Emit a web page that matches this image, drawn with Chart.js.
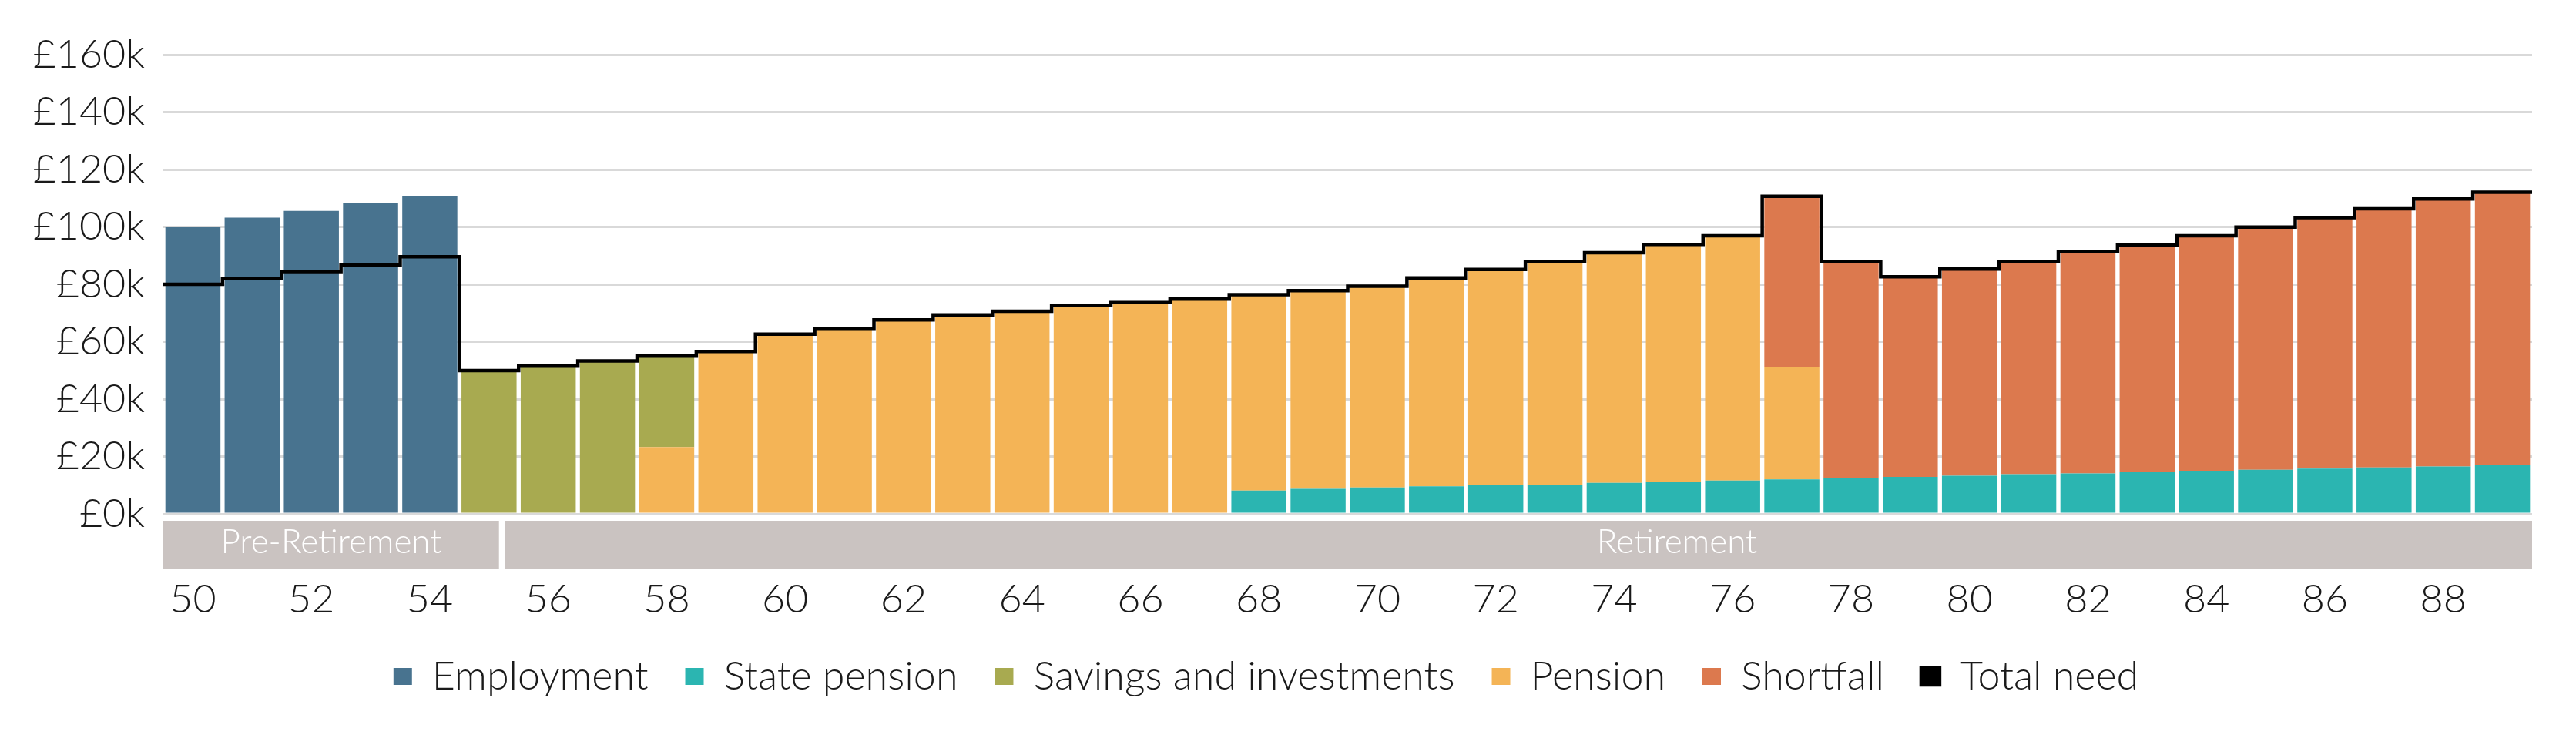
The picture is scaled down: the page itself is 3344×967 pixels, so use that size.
<!DOCTYPE html>
<html>
<head>
<meta charset="utf-8">
<script src="https://cdn.jsdelivr.net/npm/chart.js@4.4.1/dist/chart.umd.min.js"></script>
<style>
html,body{margin:0;padding:0;background:#fff;overflow:hidden}
#wrap{width:3344px;height:967px;position:relative}
</style>
</head>
<body>
<div id="wrap"><canvas id="c"></canvas></div>
<script>
// ---- Data (values in £ thousands) ----
const ages = [50,51,52,53,54,55,56,57,58,59,60,61,62,63,64,65,66,67,68,69,70,71,72,73,74,75,76,77,78,79,80,81,82,83,84,85,86,87,88,89];

const employment = [100.0,103.2,105.6,108.2,110.6, 0,0,0,0,0, 0,0,0,0,0, 0,0,0,0,0, 0,0,0,0,0, 0,0,0,0,0, 0,0,0,0,0, 0,0,0,0,0];
const statePension = [0,0,0,0,0, 0,0,0,0,0, 0,0,0,0,0, 0,0,0,8.1,8.7, 9.2,9.6,9.9,10.2,10.8, 11.1,11.6,12.0,12.5,12.9, 13.3,13.8,14.1,14.5,15.0, 15.4,15.8,16.2,16.5,17.0];
const savings = [0,0,0,0,0, 49.9,51.5,53.3,31.7,0, 0,0,0,0,0, 0,0,0,0,0, 0,0,0,0,0, 0,0,0,0,0, 0,0,0,0,0, 0,0,0,0,0];
const pension = [0,0,0,0,0, 0,0,0,23.3,56.6, 62.6,64.6,67.6,69.3,70.6, 72.6,73.6,74.8,68.3,69.1, 70.1,72.6,75.3,77.8,80.2, 82.8,85.3,39.1,0,0, 0,0,0,0,0, 0,0,0,0,0];
const shortfall = [0,0,0,0,0, 0,0,0,0,0, 0,0,0,0,0, 0,0,0,0,0, 0,0,0,0,0, 0,0,59.6,75.5,69.7, 72.0,74.2,77.4,79.1,81.9, 84.5,87.4,90.1,93.2,95.1];
const totalNeed = [80.0,82.0,84.4,86.8,89.6, 49.9,51.5,53.3,55.0,56.6, 62.6,64.6,67.6,69.3,70.6, 72.6,73.6,74.8,76.4,77.8, 79.3,82.2,85.2,88.0,91.0, 93.9,96.9,110.7,88.0,82.6, 85.3,88.0,91.5,93.6,96.9, 99.9,103.2,106.3,109.7,112.1];

const yTicks = [0,20,40,60,80,100,120,140,160];
const phaseNames = ['Pre-Retirement','Retirement'];
const retirementAge = 55;
const legendOrder = ['Employment','State pension','Savings and investments','Pension','Shortfall','Total need'];

// ---- Styling ----
const FONT = "Lato, 'Open Sans', 'Noto Sans', sans-serif";
Chart.defaults.font.family = FONT;
Chart.defaults.font.weight = '300';
Chart.defaults.color = '#1a1a1a';

const needPoints = ages.map((a, i) => ({x: a - 0.5, y: totalNeed[i]}));
needPoints.push({x: ages[ages.length - 1] + 0.5, y: totalNeed[totalNeed.length - 1]});

const bandPlugin = {
  id: 'phaseBands',
  afterDraw(chart) {
    const {ctx, chartArea, scales: {x}} = chart;
    const w = x.width / ages.length;
    const top = chartArea.bottom + 9;
    const h = 63;
    const split = x.getPixelForValue(ages.indexOf(retirementAge)) + w * 0.22;
    ctx.save();
    ctx.fillStyle = '#cac3c1';
    ctx.fillRect(chartArea.left, top, split - 4 - chartArea.left, h);
    ctx.fillRect(split + 4, top, chartArea.right - split - 4, h);
    ctx.fillStyle = '#ffffff';
    ctx.font = '300 44px ' + FONT;
    ctx.textAlign = 'center';
    ctx.textBaseline = 'alphabetic';
    ctx.fillText(phaseNames[0], (chartArea.left + split - 4) / 2, top + 42);
    ctx.fillText(phaseNames[1], chartArea.left + chartArea.width * 0.639, top + 42);
    ctx.restore();
  }
};

const barCommon = {type: 'bar', stack: 'income', grouped: false, barPercentage: 0.93, categoryPercentage: 1.0, borderWidth: 0, xAxisID: 'x', yAxisID: 'y'};

new Chart(document.getElementById('c'), {
  type: 'bar',
  data: {
    labels: ages.map(String),
    datasets: [
      Object.assign({label: 'Employment', data: employment, backgroundColor: '#48738f'}, barCommon),
      Object.assign({label: 'State pension', data: statePension, backgroundColor: '#2bb5b1'}, barCommon),
      Object.assign({label: 'Pension', data: pension, backgroundColor: '#f4b456'}, barCommon),
      Object.assign({label: 'Savings and investments', data: savings, backgroundColor: '#a8aa50'}, barCommon),
      Object.assign({label: 'Shortfall', data: shortfall, backgroundColor: '#dc794e'}, barCommon),
      {
        type: 'line', label: 'Total need', data: needPoints, xAxisID: 'x2', yAxisID: 'y',
        stepped: true, borderColor: '#000000', backgroundColor: '#000000', borderWidth: 4.5,
        pointRadius: 0, fill: false, order: -1, borderJoinStyle: 'miter', borderCapStyle: 'butt'
      }
    ]
  },
  options: {
    responsive: true,
    maintainAspectRatio: false,
    animation: false,
    layout: {padding: {top: 71, left: 0, right: 57, bottom: 53}},
    plugins: {
      tooltip: {enabled: false},
      legend: {
        position: 'bottom',
        labels: {
          font: {size: 52, weight: '300'},
          color: '#1a1a1a',
          boxWidth: 24,
          boxHeight: 22,
          padding: 48,
          sort: (a, b) => legendOrder.indexOf(a.text) - legendOrder.indexOf(b.text)
        }
      }
    },
    scales: {
      x: {
        type: 'category',
        stacked: true,
        offset: true,
        grid: {display: false, drawTicks: false},
        border: {display: false},
        ticks: {
          autoSkip: false, maxRotation: 0, padding: 80,
          font: {size: 52, weight: '300'}, color: '#1a1a1a',
          callback: function(v, i) { return ages[i] % 2 === 0 ? String(ages[i]) : ''; }
        },
        afterFit(scale) { scale.height = 137; }
      },
      x2: {
        type: 'linear', display: false, offset: false,
        min: ages[0] - 0.5, max: ages[ages.length - 1] + 0.5
      },
      y: {
        stacked: true,
        min: 0, max: 160,
        afterBuildTicks(scale) { scale.ticks = yTicks.map(v => ({value: v})); },
        grid: {color: '#d9d9d9', lineWidth: 3, drawTicks: false},
        border: {display: false},
        ticks: {
          padding: 24,
          font: {size: 52, weight: '300'}, color: '#1a1a1a',
          callback: v => '£' + v + 'k'
        },
        afterFit(scale) { scale.width = 212; }
      }
    }
  },
  plugins: [bandPlugin]
});
</script>
</body>
</html>
